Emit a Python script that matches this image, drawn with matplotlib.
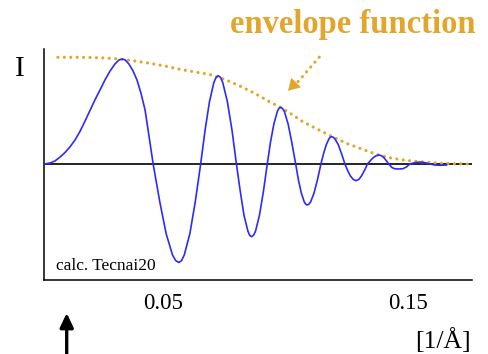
import numpy as np
import matplotlib
matplotlib.use("Agg")
import matplotlib.pyplot as plt

plt.rcParams['font.family'] = ['Liberation Serif', 'DejaVu Serif']

# calculated contrast transfer (spatial frequency in 1/A, intensity in arb. units)
freq = [0.0016, 0.0039, 0.0059, 0.0080, 0.0100, 0.0120, 0.0141, 0.0161, 0.0182, 0.0202,
        0.0222, 0.0243, 0.0263, 0.0284, 0.0304, 0.0320, 0.0333, 0.0345, 0.0361, 0.0378,
        0.0394, 0.0410, 0.0427, 0.0443, 0.0460,
        0.0487, 0.0513, 0.0539, 0.0552, 0.0565, 0.0576, 0.0587, 0.0610, 0.0632, 0.0654,
        0.0672, 0.0690, 0.0708, 0.0717, 0.0726, 0.0735, 0.0744, 0.0763, 0.0782, 0.0800,
        0.0816, 0.0831, 0.0847, 0.0854, 0.0862, 0.0870, 0.0878, 0.0894, 0.0910, 0.0926,
        0.0939, 0.0953, 0.0967, 0.0973, 0.0980, 0.0988, 0.0996, 0.1011, 0.1026, 0.1042,
        0.1053, 0.1065, 0.1077, 0.1083, 0.1089, 0.1096, 0.1103, 0.1117, 0.1131, 0.1145,
        0.1156, 0.1167, 0.1178, 0.1183, 0.1189, 0.1195, 0.1202, 0.1216, 0.1229, 0.1243,
        0.1254, 0.1265, 0.1277, 0.1288, 0.1300, 0.1311, 0.1323, 0.1335,
        0.1347, 0.1359, 0.1371, 0.1382, 0.1392, 0.1402, 0.1412, 0.1422,
        0.1435, 0.1447, 0.1463, 0.1480, 0.1494, 0.1508,
        0.1529, 0.1549, 0.1569, 0.1590, 0.1610, 0.1631, 0.1658]
ctf = [0, 1, 3, 7, 11.5, 17, 24, 32.5, 43, 53.5,
       64, 74, 84, 93, 100, 104, 105, 104.2, 100, 93,
       84, 71, 54, 28, 0,
       -37.7, -69.6, -91, -96.6, -98.5, -96.6, -91, -69.6, -37.7, 0,
       33.8, 62.4, 81.6, 86.6, 88.3, 86.6, 81.6, 62.4, 33.8, 0,
       -27.8, -51.4, -67.2, -71.3, -72.7, -71.3, -67.2, -51.4, -27.8, 0,
       21.7, 40.1, 52.4, 55.6, 56.7, 55.6, 52.4, 40.1, 21.7, 0,
       -15.7, -29, -37.9, -40.2, -41, -40.2, -37.9, -29, -15.7, 0,
       10.5, 19.3, 25.2, 26.8, 27.3, 26.8, 25.2, 19.3, 10.5, 0,
       -6.4, -11.8, -15.4, -16.7, -15.4, -11.8, -6.4, 0,
       3.4, 6.4, 8.3, 9, 8.3, 6.4, 3.4, 0,
       -3.5, -4.8, -5, -4.7, -3, 0,
       1.4, 2, 1.4, 0, -1, -1.3, -1]

# damping envelope
env_freq = [0.0071, 0.0141, 0.0202, 0.0263, 0.0324, 0.0386, 0.0447, 0.0508, 0.0569, 0.0631,
            0.0692, 0.0753, 0.0814, 0.0876, 0.0937, 0.0980, 0.1018, 0.1071, 0.1133, 0.1194,
            0.1251, 0.1304, 0.1345, 0.1386, 0.1427, 0.1467, 0.1508, 0.1549, 0.1590, 0.1631,
            0.1692, 0.1753]
env = [106.7, 106.7, 106.5, 106, 105, 103, 100.7, 98, 94.7, 92,
       89.5, 84.5, 78, 70.5, 62, 56.7, 51, 42.3, 34.5, 27,
       20.5, 15.7, 12, 8.7, 6.2, 4.5, 3.2, 2.3, 1.5, 0.8,
       0.3, 0]

xticks = [0.05, 0.15]
xtick_labels = ['0.05', '0.15']

gold = '#E3A62C'
W, H = 489, 354

fig = plt.figure(figsize=(W / 100, H / 100), dpi=100)
ax = fig.add_axes([44.3 / W, (H - 279.5) / H, (472.5 - 44.3) / W, (279.5 - 49.3) / H])

ax.axhline(0, color='black', lw=1.2, zorder=1)
ax.plot(env_freq, env, color=gold, lw=2.3, linestyle=(0, (0.01, 2.0)),
        dash_capstyle='round', zorder=2)
ax.plot(freq, ctf, color='#2b2bff', lw=1.2, zorder=3)

# dotted pointer from the label down to the envelope
ax.plot([0.1138, 0.1045], [106.7, 80.5], color=gold, lw=2.3,
        linestyle=(0, (0.01, 2.0)), dash_capstyle='round', clip_on=False)
ax.annotate('', xy=(0.1011, 73.3), xytext=(0.1042, 81.0),
            arrowprops=dict(arrowstyle='-|>,head_length=0.75,head_width=0.45',
                            color=gold, lw=0.5, shrinkA=0, shrinkB=0,
                            mutation_scale=10))

ax.set_xlim(0.00155, 0.1764)
ax.set_ylim(-115.5, 114.7)
ax.set_xticks(xticks)
ax.set_xticklabels(xtick_labels)
ax.set_yticks([])
ax.tick_params(axis='x', length=0, pad=9.5, labelsize=16.5)
for side in ['top', 'right']:
    ax.spines[side].set_visible(False)
for side in ['left', 'bottom']:
    ax.spines[side].set_linewidth(1.1)

fig.text(56 / W, (H - 270) / H, 'calc. Tecnai20', fontsize=12.5, va='baseline', ha='left')
fig.text(353 / W, (H - 33.5) / H, 'envelope function', color=gold,
         fontsize=23.5, fontweight='bold', ha='center', va='baseline')
fig.text(19.7 / W, (H - 76) / H, 'I', fontsize=21, ha='center', va='baseline')
fig.text(471 / W, (H - 348.3) / H, '[1/Å]', fontsize=18.5, ha='right', va='baseline')

# marker arrow under the origin
fig.add_artist(plt.Annotation('', xy=(66.7 / W, 41 / H), xytext=(66.7 / W, -0.01),
                              xycoords='figure fraction', textcoords='figure fraction',
                              arrowprops=dict(arrowstyle='-|>,head_length=0.85,head_width=0.4',
                                              color='black', lw=2.4, shrinkA=0, shrinkB=0,
                                              mutation_scale=10)))

fig.savefig('out.png', dpi=100)
